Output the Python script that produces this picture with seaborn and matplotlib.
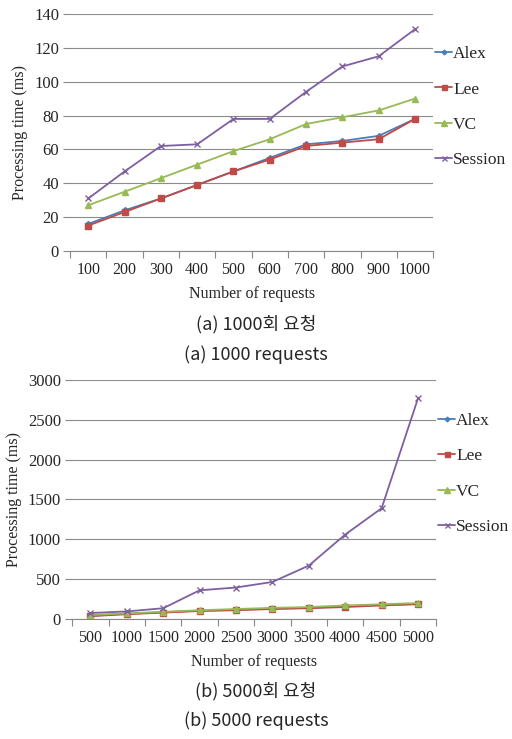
import pandas as pd
import numpy as np
import matplotlib
matplotlib.use('Agg')
import matplotlib.pyplot as plt
import seaborn as sns

# data
req_a = ['100', '200', '300', '400', '500', '600', '700', '800', '900', '1000']
alex_a = [16, 24, 31, 39, 47, 55, 63, 65, 68, 78]
lee_a = [15, 23, 31, 39, 47, 54, 62, 64, 66, 78]
vc_a = [27, 35, 43, 51, 59, 66, 75, 79, 83, 90]
session_a = [31, 47, 62, 63, 78, 78, 94, 109, 115, 131]

req_b = ['500', '1000', '1500', '2000', '2500', '3000', '3500', '4000', '4500', '5000']
alex_b = [40, 65, 85, 105, 115, 130, 140, 160, 175, 190]
lee_b = [35, 60, 80, 100, 110, 125, 135, 150, 170, 185]
vc_b = [50, 70, 90, 110, 125, 140, 150, 170, 185, 200]
session_b = [75, 95, 135, 360, 395, 465, 670, 1060, 1390, 2770]

methods = ['Alex', 'Lee', 'VC', 'Session']
colors = {'Alex': '#4a7ebb', 'Lee': '#be4b48', 'VC': '#98b954', 'Session': '#7d60a0'}
markers = {'Alex': 'D', 'Lee': 's', 'VC': '^', 'Session': 'x'}
msizes = {'Alex': 3, 'Lee': 4.5, 'VC': 5, 'Session': 4.5}

sns.set_theme(style='white')
plt.rcParams['font.family'] = ['Liberation Serif', 'DejaVu Serif']
cap_font = ['Noto Sans CJK KR', 'DejaVu Sans']


def make_long(labels, series):
    rows = []
    for name, vals in zip(methods, series):
        for i, (lab, v) in enumerate(zip(labels, vals)):
            rows.append({'pos': i, 'req': lab, 'method': name, 'time': v})
    return pd.DataFrame(rows)


def draw(ax, labels, series, ymax, ystep):
    df = make_long(labels, series)
    for name in methods:
        sub = df[df['method'] == name]
        sns.lineplot(data=sub, x='pos', y='time', ax=ax, color=colors[name],
                     marker=markers[name], markersize=msizes[name],
                     markeredgecolor=colors[name], markeredgewidth=1.0,
                     linewidth=1.3, label=name)
    ax.set_xlim(-0.5, len(labels) - 0.5)
    ax.set_ylim(0, ymax)
    ax.set_yticks(np.arange(0, ymax + 1, ystep))
    ax.set_xticks(range(len(labels)))
    ax.set_xticklabels(labels)
    ax.set_xticks(np.arange(-0.5, len(labels), 1.0), minor=True)
    ax.tick_params(axis='x', which='major', length=0, labelsize=11.5, pad=8)
    ax.tick_params(axis='x', which='minor', length=5, color='#888888', width=0.8, direction='out', bottom=True)
    ax.tick_params(axis='y', length=5, color='#888888', width=0.8, labelsize=12, left=True, pad=3)
    ax.yaxis.grid(True, color='#8c8c8c', linewidth=0.8)
    ax.set_axisbelow(True)
    for s in ['top', 'right', 'left']:
        ax.spines[s].set_visible(False)
    ax.spines['bottom'].set_color('#888888')
    ax.spines['bottom'].set_linewidth(0.8)
    ax.set_xlabel('Number of requests', fontsize=11.5, labelpad=6)
    ax.set_ylabel('Processing time (ms)', fontsize=11.5, labelpad=4)
    ax.legend(loc='center left', bbox_to_anchor=(1.005, 0.607), frameon=False,
              fontsize=12.5, handlelength=1.0, handletextpad=0.05,
              labelspacing=1.1, borderaxespad=0.0, borderpad=0.0,
              markerscale=0.8)


fig = plt.figure(figsize=(5.12, 7.39), dpi=100)
ax1 = fig.add_axes([0.137, 0.6604, 0.709, 0.3207])
ax2 = fig.add_axes([0.141, 0.1624, 0.711, 0.3234])

draw(ax1, req_a, [alex_a, lee_a, vc_a, session_a], 140, 20)
draw(ax2, req_b, [alex_b, lee_b, vc_b, session_b], 3000, 500)

fig.text(0.5, 1 - 324 / 739, '(a) 1000회 요청', ha='center', va='center', fontsize=13, family=cap_font)
fig.text(0.5, 1 - 355 / 739, '(a) 1000 requests', ha='center', va='center', fontsize=13, family=cap_font)
fig.text(0.5, 1 - 691 / 739, '(b) 5000회 요청', ha='center', va='center', fontsize=13, family=cap_font)
fig.text(0.5, 1 - 721 / 739, '(b) 5000 requests', ha='center', va='center', fontsize=13, family=cap_font)

fig.savefig('out.png', dpi=100)
